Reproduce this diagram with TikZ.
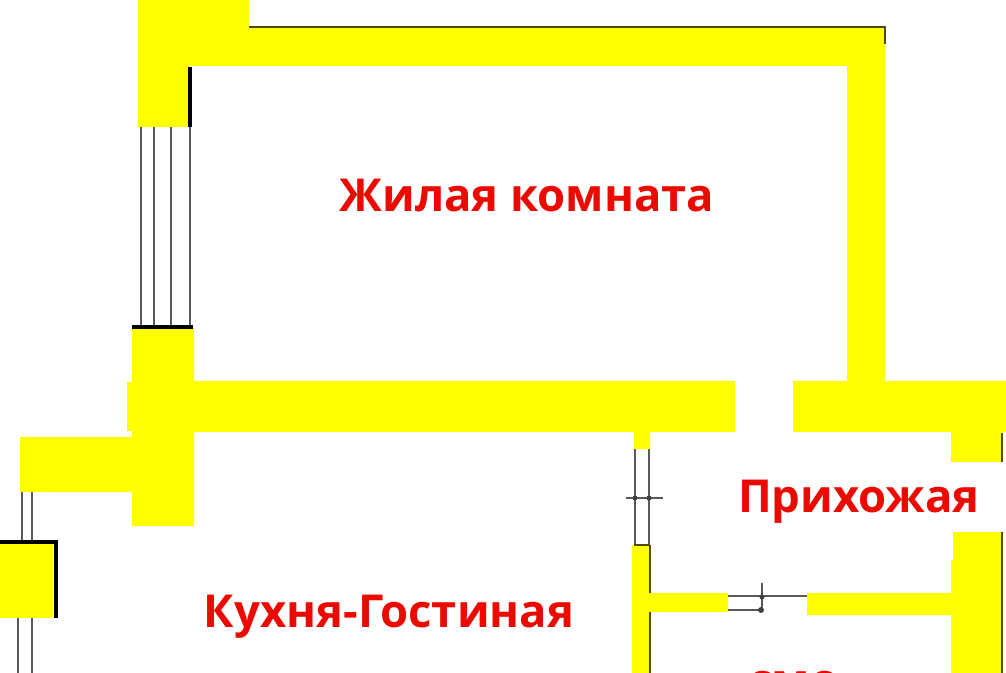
\documentclass[tikz,border=0pt]{standalone}
\usepackage{fontspec}
\setmainfont{Open Sans}
\definecolor{wallyellow}{RGB}{255,255,0}
\definecolor{labelred}{RGB}{235,10,0}
\begin{document}
\begin{tikzpicture}[x=0.5pt,y=-0.5pt,
   wall/.style={fill=wallyellow,draw=none},
   edge/.style={draw=black,line width=2pt},
   thinedge/.style={draw=black!70!wallyellow,line width=0.6pt},
   pane/.style={draw=black!65,line width=0.9pt},
   label/.style={text=labelred,font=\bfseries\fontsize{22.7}{22.7}\selectfont,inner sep=0pt,anchor=base}]
   \useasboundingbox (0,0) rectangle (1006,673);
   \clip (0,0) rectangle (1006,673);
   \draw [pane] (141,127) -- (141,328);
   \draw [pane] (154,127) -- (154,328);
   \draw [pane] (171,127) -- (171,328);
   \draw [pane] (190,127) -- (190,328);
   \draw [pane] (22,492) -- (22,540);
   \draw [pane] (32,492) -- (32,540);
   \draw [pane] (18,618) -- (18,673);
   \draw [pane] (32,618) -- (32,673);
   \draw [pane] (635,449) -- (635,545);
   \draw [pane] (649,449) -- (649,545);
   \draw [pane] (626,498) -- (663,498);
   \draw [pane] (728,596) -- (807,596);
   \draw [pane] (728,610) -- (762,610);
   \draw [pane] (762,583) -- (762,611);
   \fill [black!75] (635,498) circle (2.5);
   \fill [black!75] (649,498) circle (2.5);
   \fill [black!75] (762,597) circle (2.5);
   \fill [black!75] (761,610) circle (3);
   \fill [wall] (138,0) -- (249,0) -- (249,27) -- (885,27) -- (885,381) -- (1006,381) -- (1006,432) -- (1002,432) -- (1002,462) -- (951,462) -- (951,432) -- (793,432) -- (793,381) -- (847,381) -- (847,66) -- (190,66) -- (190,127) -- (138,127) -- cycle;
   \fill [wall] (132,328) -- (194,328) -- (194,381) -- (735,381) -- (735,432) -- (650,432) -- (650,449) -- (634,449) -- (634,432) -- (194,432) -- (194,526) -- (132,526) -- (132,492) -- (20,492) -- (20,437) -- (132,437) -- (132,431) -- (127,431) -- (127,382) -- (132,382) -- cycle;
   \fill [wall] (0,543) rectangle (53,618);
   \fill [wall] (953,532) -- (1002,532) -- (1002,673) -- (951,673) -- (951,615) -- (807,615) -- (807,593) -- (951,593) -- (951,560) -- (953,560) -- cycle;
   \fill [wall] (632,545) -- (650,545) -- (650,593) -- (728,593) -- (728,612) -- (650,612) -- (650,673) -- (632,673) -- cycle;
   \draw [edge] (0,542) -- (56,542) -- (56,618);
   \draw [edge] (190,67) -- (190,127);
   \draw [edge] (132,327) -- (193,327);
   \draw [thinedge] (249,27) -- (885,27) -- (885,44);
   \draw [thinedge] (650,545) -- (650,593);
   \draw [thinedge] (650,612) -- (650,673);
   \draw [thinedge] (634,545) -- (650,545);
   \draw [thinedge] (1002,433) -- (1002,462);
   \draw [thinedge] (1002,532) -- (1002,673);
   \node [label] (livingroom) at (527,212) {Жилая комната};
   \node [label] (hallway) at (859,512) {Прихожая};
   \node [label] (kitchen) at (389,627) {Кухня-Гостиная};
   \node [label] (bathroom) at (791,696) {смс};
  \end{tikzpicture}
\end{document}
